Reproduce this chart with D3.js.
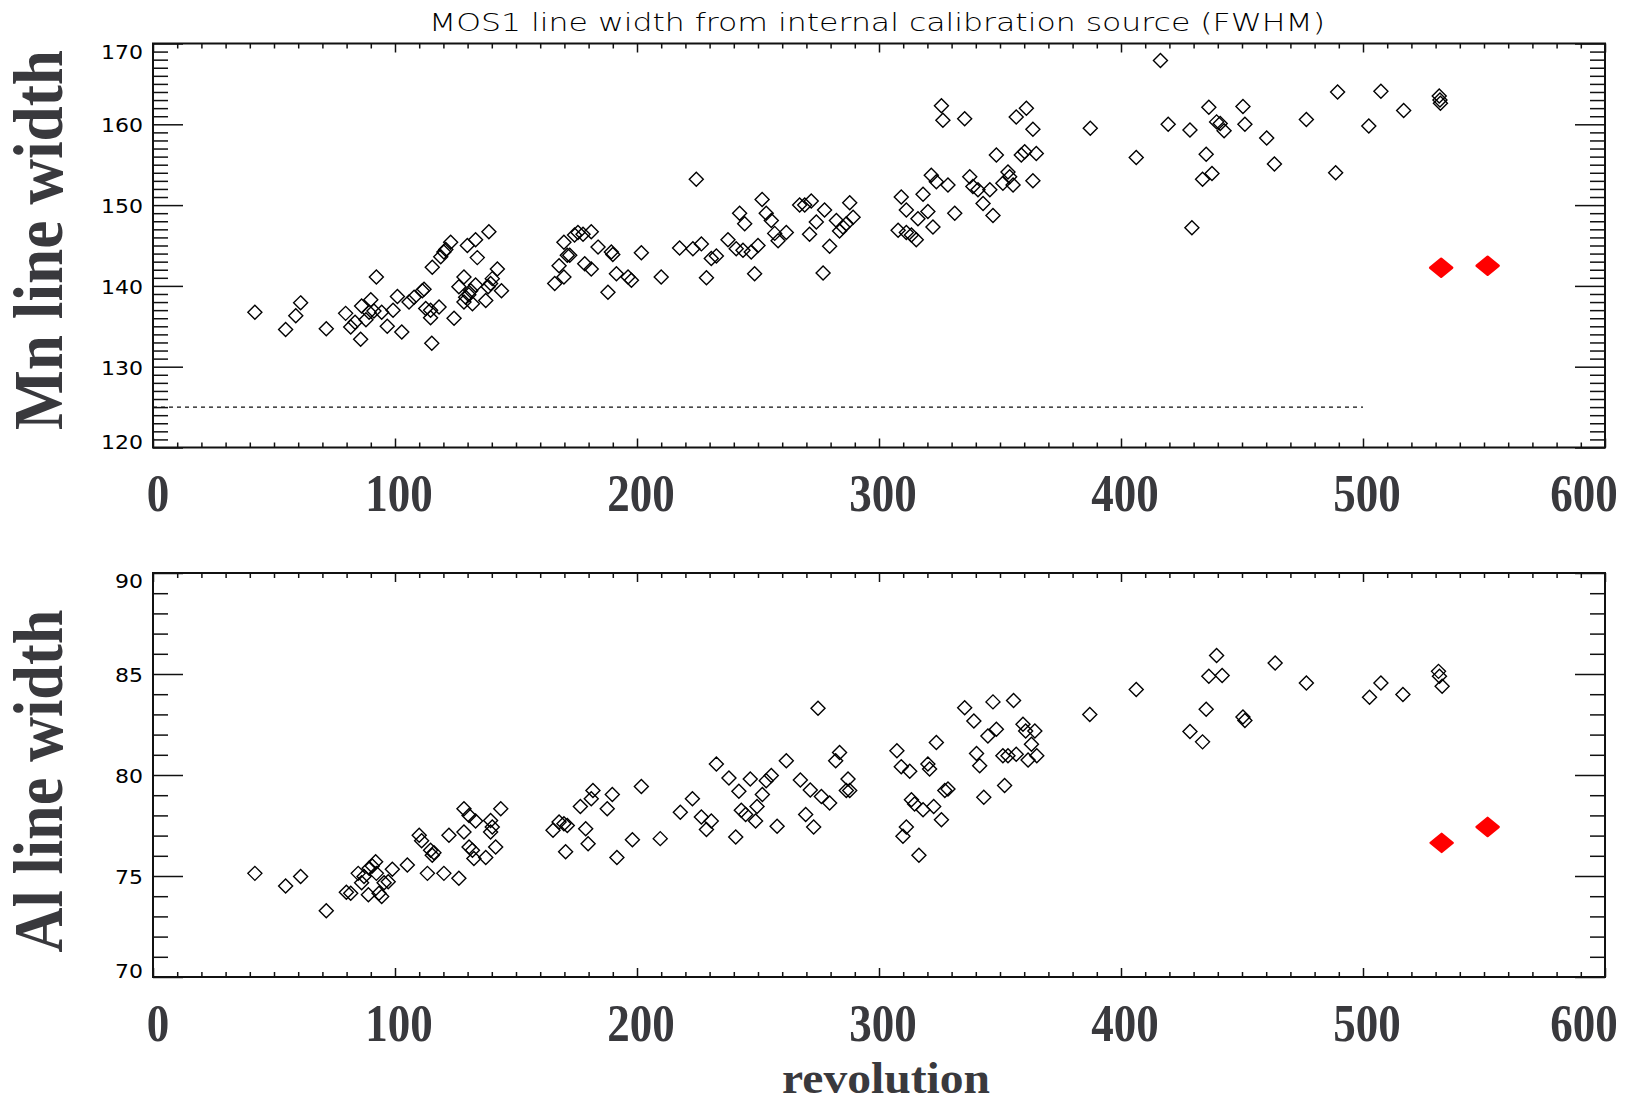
<!DOCTYPE html>
<html><head><meta charset="utf-8">
<script src="https://cdn.jsdelivr.net/npm/d3@7"></script>
<style>html,body{margin:0;padding:0;background:#fff;overflow:hidden}</style>
</head><body><svg id="c" width="1634" height="1104"></svg>
<script>
// ---------------- DATA ----------------
const titleText = "MOS1 line width from internal calibration source (FWHM)";
const xLabel = "revolution";
const mnLabel = "Mn line width";
const alLabel = "Al line width";
const xTicks = [0, 100, 200, 300, 400, 500, 600];
const mnTicks = [120, 130, 140, 150, 160, 170];
const alTicks = [70, 75, 80, 85, 90];
const mnReference = 125;          // dashed reference level (Mn)
const mnReferenceRange = [0, 500];

const mnRev = [42.1,54.8,59,61,71.6,79.6,81.7,83.5,85.8,86.2,88,90,89.3,91.3,92.3,94.5,96.8,99.2,101,102.8,105.8,107.9,111.3,112,112.7,114.7,114.7,115.2,115.4,118.2,118.9,120.2,121,123,124.4,126.4,128.5,129.2,128.5,129.9,130.5,131.3,132,133.3,134,133.3,137.5,138.5,138.8,139.5,140.2,142.3,144,
166,167.8,169.8,169.8,171.2,172.2,174.2,175.6,177.7,181.1,178.4,181.1,183.9,188,189.4,190,191.5,196.3,197.7,201.8,210,217.6,223.1,224.5,226.6,228.7,230.7,232.8,237.6,241,242.4,244.5,243.8,247.2,248.6,250,251.7,253.4,255.5,256.9,258.3,261.7,267.2,269.3,272,271.3,274.1,276.9,277.5,279.6,282.4,283.7,285.1,286.5,287.9,289.3,
309.2,311.3,307.9,311.3,313.4,315.4,316.1,318.2,320.2,322.3,321.6,323.7,325.8,326.4,328.5,331.3,335.4,337.5,338.8,340.9,343,345.8,347.1,348.5,351.2,353.3,354,355.4,356.7,358.8,360.2,360.9,363.6,363.6,365,
387.3,406.3,416.3,419.5,428.5,429.3,433.7,435.2,436.3,437.6,439.5,441,442.6,450.4,451.2,460.2,463.4,476.6,488.7,489.5,502.4,507.4,516.8,531.5,531.8,532];
const mnWidth = [136.75,134.6,136.3,137.9,134.7,136.6,134.9,135.5,133.4,137.5,135.8,138.3,136.75,136.9,141.1,136.75,135,137,138.7,134.3,138,138.6,139.4,139.6,137.2,136.05,137,132.9,142.3,137.4,143.6,144.2,144.5,145.4,136,139.9,141.1,138.6,138,145,138.9,139.4,137.8,145.7,143.5,140.1,138.2,139.9,146.7,140.3,140.9,142.1,139.4,
140.3,142.5,145.4,141.1,143.8,143.8,146.3,146.6,146.4,146.7,142.75,142.1,144.8,139.2,144.2,143.9,141.5,141.1,140.7,144.1,141.1,144.7,144.6,153.2,145.2,141,143.4,143.7,145.7,144.6,149,147.7,144.4,144.2,141.5,145,150.7,149,148.1,146.5,145.6,146.6,150,150,150.5,146.4,147.9,141.6,149.4,144.9,148.1,146.8,147.3,147.7,150.3,148.5,
151,149.4,146.9,146.6,146.3,145.7,148.3,151.35,149.2,147.3,153.7,152.9,162.3,160.5,152.5,149,160.7,153.5,152.3,151.9,150.2,151.9,148.7,156.2,152.7,154.1,153.5,152.5,160.9,156.2,156.6,162,159.4,153,156.4,
159.5,155.9,167.9,160,159.3,147.2,153.2,156.3,162.1,153.9,160.3,160.1,159.2,162.2,160,158.3,155.1,160.6,154,164,159.8,164.1,161.7,163.5,163,162.6];
const mnNewRev = [532.3, 551.5];
const mnNewWidth = [142.25, 142.5];

const alRev = [42.1,54.8,61,71.6,79.9,81.7,84.8,86.2,87.2,89,89.3,90.6,92,92.3,93.4,94.5,95.5,97.2,98.9,105.1,110,111,114.7,115.4,116.1,113.4,120.2,122.3,126.4,128.5,128.5,130.6,130.6,132,132.6,133.3,137.5,139.5,139.5,140.2,141.6,143.7,165.3,167.8,169.8,170.5,171.2,
176.6,178.8,179.8,181.8,181.1,187.7,189.8,191.7,198.1,201.8,209.6,217.9,222.9,226.6,228.7,230.7,232.8,238,240.8,242.1,243.1,244.9,246.8,249,249.6,251.8,253.4,255.5,257.9,261.7,267.5,269.7,271.6,273,274.8,276.2,279.6,282.1,283.7,286.5,287.2,287.9,
307.4,309.2,311.3,309.9,312.7,313.4,314.7,316.5,318.2,320.2,320.9,322.6,323.7,325.8,327.2,328.5,335.4,339.2,340.3,341.6,343.3,345,347.1,348.5,351.9,351.2,353.3,355.6,356.7,359.5,360.6,361.6,363,
364.4,365.2,387.1,406.3,428.5,433.7,435.2,436.3,439.5,441.8,450.4,451.2,463.7,476.6,502.7,507.4,516.5,531.2,531.6,532.7];
const alWidth = [75.13,74.5,74.97,73.28,74.2,74.15,75.13,74.67,74.97,74.07,75.38,75.5,75.7,75.13,74.15,73.98,74.67,74.72,75.33,75.54,77.02,76.74,76.28,76.03,76.15,75.13,75.13,77.02,74.89,78.33,77.18,78,76.44,76.28,75.87,77.72,75.92,77.75,77.18,77.43,76.44,78.33,77.26,77.67,77.59,76.2,77.5,
78.44,77.34,76.6,79.23,78.82,78.33,79.03,75.92,76.8,79.43,76.85,78.16,78.82,77.92,77.3,77.72,80.54,79.85,76.93,79.2,78.25,78.05,79.8,77.72,78.44,79.03,79.72,79.97,77.46,80.7,79.75,78.05,79.26,77.43,83.3,78.93,78.61,80.7,81.11,79.23,79.8,79.23,
81.2,80.41,77.43,76.97,80.18,78.77,78.57,76.03,78.28,80.54,80.3,78.44,81.61,77.79,79.23,79.31,83.33,82.67,81.07,80.46,78.9,81.93,83.62,82.26,79.48,80.95,80.95,83.69,81.03,82.51,82.18,80.74,81.52,
82.18,80.95,83.0,84.23,82.15,81.64,83.25,84.89,85.92,84.93,82.87,82.7,85.54,84.56,83.85,84.56,83.98,85.13,84.89,84.39];
const alNewRev = [532.5, 551.5];
const alNewWidth = [76.64, 77.43];

// ---------------- LAYOUT ----------------
const svg = d3.select("#c");
const plotLeft = 153, plotRight = 1605;
const x = d3.scaleLinear().domain([0, 600]).range([plotLeft, plotRight]);

svg.append("rect").attr("width", 1634).attr("height", 1104).attr("fill", "#fff");

svg.append("text").attr("x", 877).attr("y", 31)
  .attr("text-anchor", "middle")
  .attr("font-family", "DejaVu Sans").attr("font-weight", 300)
  .attr("font-size", 24).attr("fill", "#000")
  .attr("textLength", 896).attr("lengthAdjust", "spacingAndGlyphs")
  .text(titleText);

const diamondOpen = "M0,-7L7,0L0,7L-7,0Z";
const diamondRed = "M0,-9L11,0L0,9L-11,0Z";

function panel(o) {
  const y = d3.scaleLinear().domain(o.yDomain).range([o.bottom, o.top]);
  const g = svg.append("g");
  const minorY = d3.range(o.yDomain[0], o.yDomain[1] + 0.001, o.yMinor).filter(v => !o.yTicks.includes(v));
  const minorX = d3.range(0, 600.001, 10).filter(v => !xTicks.includes(v));

  function ax(axisGen, tr, vals, size) {
    const a = g.append("g").attr("transform", tr)
      .call(axisGen.tickValues(vals).tickSize(size).tickSizeOuter(0).tickFormat(""));
    a.select(".domain").remove();
    a.selectAll("line").attr("stroke", "#111").attr("stroke-width", 1.5);
  }
  ax(d3.axisLeft(y), `translate(${plotLeft},0)`, o.yTicks, -30);
  ax(d3.axisLeft(y), `translate(${plotLeft},0)`, minorY, -15);
  ax(d3.axisRight(y), `translate(${plotRight},0)`, o.yTicks, -30);
  ax(d3.axisRight(y), `translate(${plotRight},0)`, minorY, -15);
  ax(d3.axisBottom(x), `translate(0,${o.bottom})`, xTicks, -9);
  ax(d3.axisBottom(x), `translate(0,${o.bottom})`, minorX, -5);
  ax(d3.axisTop(x), `translate(0,${o.top})`, xTicks, -9);
  ax(d3.axisTop(x), `translate(0,${o.top})`, minorX, -5);

  g.append("rect").attr("x", plotLeft).attr("y", o.top)
    .attr("width", plotRight - plotLeft).attr("height", o.bottom - o.top)
    .attr("fill", "none").attr("stroke", "#111").attr("stroke-width", 2);

  g.selectAll(".yl").data(o.yTicks).join("text")
    .attr("x", plotLeft - 10)
    .attr("y", d => Math.max(o.top + 7, Math.min(o.bottom - 7, y(d))) + 8)
    .attr("text-anchor", "end")
    .attr("font-family", "DejaVu Sans")
    .attr("font-size", 19).attr("fill", "#000")
    .attr("textLength", d => 14 * String(d).length).attr("lengthAdjust", "spacingAndGlyphs")
    .text(d => d);

  g.selectAll(".xl").data(xTicks).join("text")
    .attr("x", d => Math.max(158, Math.min(1584, x(d) + 4)))
    .attr("y", o.xLabelY)
    .attr("text-anchor", "middle")
    .attr("font-family", "Liberation Serif").attr("font-weight", "bold")
    .attr("font-size", 52).attr("fill", "#39393d")
    .attr("textLength", d => 22.5 * String(d).length).attr("lengthAdjust", "spacingAndGlyphs")
    .text(d => d);

  g.append("text")
    .attr("transform", `translate(62,${o.titleY}) rotate(-90)`)
    .attr("text-anchor", "middle")
    .attr("font-family", "Liberation Serif").attr("font-weight", "bold")
    .attr("font-size", 69).attr("fill", "#39393d")
    .attr("textLength", o.titleLen).attr("lengthAdjust", "spacingAndGlyphs")
    .text(o.label);

  if (o.refLevel !== undefined) {
    g.append("line")
      .attr("x1", x(mnReferenceRange[0])).attr("x2", x(mnReferenceRange[1]))
      .attr("y1", y(o.refLevel)).attr("y2", y(o.refLevel))
      .attr("stroke", "#111").attr("stroke-width", 1.3).attr("stroke-dasharray", "4,4");
  }

  const pts = o.rev.map((r, i) => [r, o.val[i]]);
  g.selectAll(".p").data(pts).join("path")
    .attr("d", diamondOpen)
    .attr("transform", d => `translate(${x(d[0])},${y(d[1])})`)
    .attr("fill", "none").attr("stroke", "#000").attr("stroke-width", 1.4);

  const red = o.newRev.map((r, i) => [r, o.newVal[i]]);
  g.selectAll(".r").data(red).join("path")
    .attr("d", diamondRed)
    .attr("transform", d => `translate(${x(d[0])},${y(d[1])})`)
    .attr("fill", "#ff0000").attr("stroke", "#ff0000").attr("stroke-width", 2.5)
    .attr("stroke-linejoin", "round");
}

panel({top: 43.5, bottom: 447.5, yDomain: [120, 170], yTicks: mnTicks, yMinor: 1,
  xLabelY: 511, titleY: 240, titleLen: 380, label: mnLabel,
  rev: mnRev, val: mnWidth, newRev: mnNewRev, newVal: mnNewWidth, refLevel: mnReference});
panel({top: 573, bottom: 977, yDomain: [70, 90], yTicks: alTicks, yMinor: 1,
  xLabelY: 1041, titleY: 781, titleLen: 343, label: alLabel,
  rev: alRev, val: alWidth, newRev: alNewRev, newVal: alNewWidth});

svg.append("text").attr("x", 886).attr("y", 1093)
  .attr("text-anchor", "middle")
  .attr("font-family", "Liberation Serif").attr("font-weight", "bold")
  .attr("font-size", 45).attr("fill", "#39393d")
  .attr("textLength", 208).attr("lengthAdjust", "spacingAndGlyphs")
  .text(xLabel);
</script></body></html>
